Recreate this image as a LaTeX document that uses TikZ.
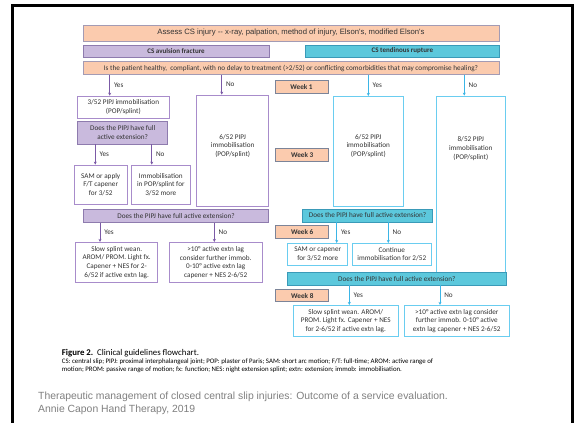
\documentclass[tikz,border=0pt]{standalone}
\usepackage{fontspec}
\setmainfont{Carlito}
\newfontfamily\arialfont{Liberation Sans}
\usetikzlibrary{arrows.meta,positioning}

\definecolor{peach}{HTML}{FBCBAE}
\definecolor{peachline}{HTML}{A39BB4}
\definecolor{weekline}{HTML}{7C8498}
\definecolor{lilac}{HTML}{C9BADD}
\definecolor{lilacline}{HTML}{8E7BAE}
\definecolor{tealfill}{HTML}{5CC8DC}
\definecolor{tealline}{HTML}{3A9AB8}
\definecolor{pline}{HTML}{A88CCB}
\definecolor{cline}{HTML}{6ACDF0}
\definecolor{parrow}{HTML}{7B5AA6}
\definecolor{carrow}{HTML}{3BB5E6}
\definecolor{inktext}{HTML}{333333}

\tikzset{
  txt/.style={font=\fontsize{7.2}{8.8}\selectfont, text=inktext, align=center, inner sep=0pt},
  anybox/.style={txt, draw, line width=0.8pt},
  peachbox/.style={anybox, fill=peach, draw=peachline},
  weekbox/.style={anybox, fill=peach, draw=weekline, font=\fontsize{7.2}{8.8}\selectfont\bfseries,
    minimum width=53pt, minimum height=12.7pt},
  lilacbox/.style={anybox, fill=lilac, draw=lilacline},
  tealbox/.style={anybox, fill=tealfill, draw=tealline},
  pbox/.style={anybox, fill=white, draw=pline},
  cbox/.style={anybox, fill=white, draw=cline},
  parr/.style={draw=parrow, line width=0.6pt, -{Stealth[length=3pt,width=3pt]}},
  carr/.style={draw=carrow, line width=0.6pt, -{Stealth[length=3pt,width=3pt]}},
  yesno/.style={txt, right, midway, xshift=4pt}
}

\begin{document}
\begin{tikzpicture}[x=1pt, y=-1pt]
  \useasboundingbox (0,0) rectangle (574,423);
  \fill[white] (0,0) rectangle (574,423);
  \draw[line width=3pt] (12.5,423) -- (12.5,5.5) -- (572.5,5.5) -- (572.5,423);

  % heading boxes
  \node[peachbox, minimum width=416pt, minimum height=16pt, font=\arialfont\fontsize{7.7}{9}\selectfont] (assess) at (291,33)
    {Assess CS injury -- x-ray, palpation, method of injury, Elson's, modified Elson's};
  \node[lilacbox, minimum width=186pt, minimum height=12pt, font=\fontsize{7}{8}\selectfont\bfseries] (avul) at (176,51) {CS avulsion fracture};
  \node[tealbox, minimum width=193.3pt, minimum height=12pt, font=\fontsize{7}{8}\selectfont\bfseries] (tend) at (402.3,51) {CS tendinous rupture};
  \node[peachbox, minimum width=416pt, minimum height=12.6pt] (healthy) at (291,68)
    {Is the patient healthy,\ \ compliant, with no delay to treatment (>2/52) or conflicting comorbidities that may compromise healing?};

  % avulsion fracture side
  \node[pbox, minimum width=91.3pt, minimum height=22.3pt] (imm3) at (123.3,107.2) {3/52 PIPJ immobilisation\\(POP/splint)};
  \node[lilacbox, minimum width=90pt, minimum height=22.3pt] (fullA) at (122.7,132.8) {Does the PIPJ have full\\active extension?};
  \node[pbox, minimum width=72pt, minimum height=111pt] (imm6A) at (232.7,150.5) {};
  \node[txt] (imm6Atext) at (232.7,146) {6/52 PIPJ\\immobilisation\\(POP/splint)};
  \node[pbox, minimum width=53.3pt, minimum height=39pt] (samA) at (100.7,184.5) {SAM or apply\\F/T capener\\for 3/52};
  \node[pbox, minimum width=59.7pt, minimum height=39pt] (moreA) at (160.8,184.5) {Immobilisation\\in POP/splint for\\3/52 more};
  \node[lilacbox, minimum width=185.4pt, minimum height=13.3pt] (fullB) at (176,215.7) {Does the PIPJ have full active extension?};
  \node[pbox, minimum width=82pt, minimum height=40.4pt] (weanA) at (116.7,262.5)
    {Slow splint wean.\\AROM/ PROM. Light fx.\\Capener + NES for 2-\\6/52 if active extn lag.};
  \node[pbox, minimum width=93.3pt, minimum height=40.4pt] (lagA) at (215.7,262.5)
    {>10\textdegree{} active extn lag\\consider further immob.\\0-10\textdegree{} active extn lag\\capener + NES 2-6/52};

  % tendinous rupture side
  \node[weekbox] (wk1) at (301.5,86.7) {Week 1};
  \node[weekbox] (wk3) at (302.2,154.7) {Week 3};
  \node[weekbox] (wk6) at (302.2,232.2) {Week 6};
  \node[weekbox] (wk8) at (302.3,295.5) {Week 8};
  \node[cbox, minimum width=70pt, minimum height=110.4pt] (imm6B) at (368.3,151.5) {};
  \node[txt] (imm6Btext) at (368.3,146) {6/52 PIPJ\\immobilisation\\(POP/splint)};
  \node[cbox, minimum width=69.5pt, minimum height=176pt] (imm8) at (470.8,184) {};
  \node[txt] (imm8text) at (470.8,148.7) {8/52 PIPJ\\immobilisation\\(POP/splint)};
  \node[tealbox, minimum width=130.4pt, minimum height=13pt] (fullC) at (367.5,215.5) {Does the PIPJ have full active extension?};
  \node[cbox, minimum width=60pt, minimum height=21.7pt] (samB) at (317.7,254.2) {SAM or capener\\for 3/52 more};
  \node[cbox, minimum width=79.7pt, minimum height=21.7pt] (contB) at (391.8,254.2) {Continue\\immobilisation for 2/52};
  \node[tealbox, minimum width=218.3pt, minimum height=12.7pt] (fullD) at (396.8,278.7) {Does the PIPJ have full active extension?};
  \node[cbox, minimum width=105pt, minimum height=31.4pt] (weanB) at (345.8,321)
    {Slow splint wean. AROM/\\PROM. Light fx. Capener + NES\\for 2-6/52 if active extn lag.};
  \node[cbox, minimum width=105pt, minimum height=31.4pt] (lagB) at (456.8,321)
    {>10\textdegree{} active extn lag consider\\further immob. 0-10\textdegree{} active\\extn lag capener + NES 2-6/52};

  % arrow columns
  \coordinate (c1) at (109.7,0);
  \coordinate (c2) at (221.7,0);
  \coordinate (c3) at (368.3,0);
  \coordinate (c4) at (464.3,0);
  \coordinate (c5) at (95.3,0);
  \coordinate (c6) at (151.7,0);
  \coordinate (c7) at (100,0);
  \coordinate (c8) at (214.3,0);
  \coordinate (c9) at (336.7,0);
  \coordinate (c10) at (388.3,0);
  \coordinate (c11) at (349.3,0);
  \coordinate (c12) at (440,0);

  \draw[parr] (healthy.south -| c1) -- (imm3.north -| c1) node[yesno] {Yes};
  \draw[parr] (healthy.south -| c2) -- (imm6A.north -| c2) node[yesno] {No};
  \draw[carr] (healthy.south -| c3) -- (imm6B.north -| c3) node[yesno] {Yes};
  \draw[carr] (healthy.south -| c4) -- (imm8.north -| c4) node[yesno] {No};
  \draw[parr] (fullA.south -| c5) -- (samA.north -| c5) node[yesno] {Yes};
  \draw[parr] (fullA.south -| c6) -- (moreA.north -| c6) node[yesno] {No};
  \draw[parr] (fullB.south -| c7) -- (weanA.north -| c7) node[yesno] {Yes};
  \draw[parr] (fullB.south -| c8) -- (lagA.north -| c8) node[yesno] {No};
  \draw[carr] (fullC.south -| c9) -- (samB.north -| c9) node[yesno] {Yes};
  \draw[carr] (fullC.south -| c10) -- (contB.north -| c10) node[yesno] {No};
  \draw[carr] (fullD.south -| c11) -- (weanB.north -| c11) node[yesno] {Yes};
  \draw[carr] (fullD.south -| c12) -- (lagB.north -| c12) node[yesno] {No};

  % caption
  \node[anchor=base west, inner sep=0pt, font=\fontsize{8.8}{10}\selectfont] (figcap) at (61.7,355.5)
    {\textbf{Figure 2.}\ \ Clinical guidelines flowchart.};
  \node[anchor=north west, inner sep=0pt, align=left, font=\fontsize{6.85}{7.6}\selectfont] (legend) at (61.7,358.5)
    {CS: central slip; PIPJ: proximal interphalangeal joint; POP: plaster of Paris; SAM: short arc motion; F/T: full-time; AROM: active range of\\
     motion; PROM: passive range of motion; fx: function; NES: night extension splint; extn: extension; immob: immobilisation.};
  \node[anchor=north west, inner sep=0pt, align=left, text=black!50, font=\arialfont\fontsize{10.4}{13}\selectfont] (source) at (38,391.5)
    {Therapeutic management of closed central slip injuries: Outcome of a service evaluation.\\Annie Capon Hand Therapy, 2019};
\end{tikzpicture}
\end{document}
